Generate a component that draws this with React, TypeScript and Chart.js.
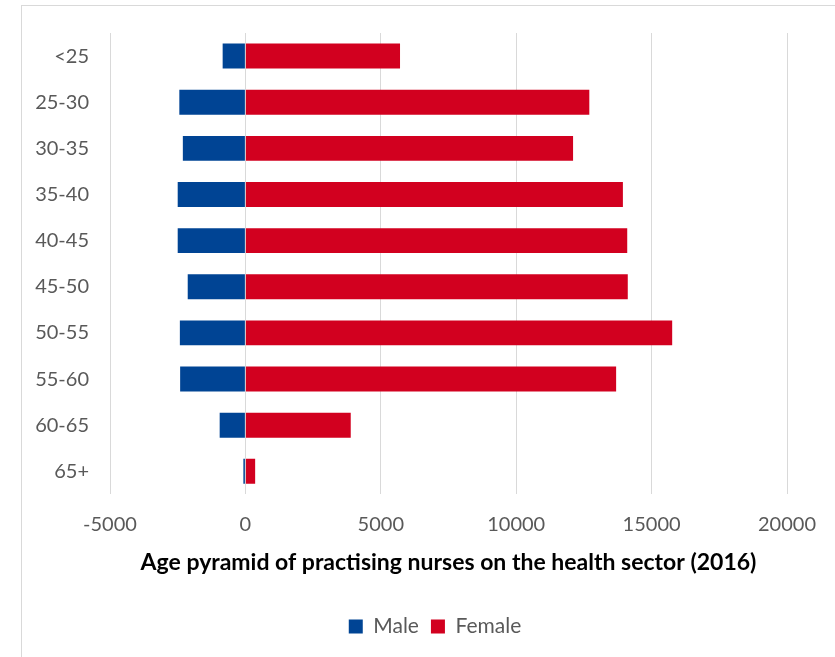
import React, { useEffect, useRef } from "react";
import { Chart, registerables } from "chart.js";

Chart.register(...registerables);

const categories = ["<25", "25-30", "30-35", "35-40", "40-45", "45-50", "50-55", "55-60", "60-65", "65+"];
const maleValues = [-840, -2440, -2310, -2500, -2500, -2130, -2420, -2410, -950, -75];
const femaleValues = [5710, 12700, 12100, 13940, 14100, 14120, 15760, 13690, 3890, 360];
const xTicks = [-5000, 0, 5000, 10000, 15000, 20000];
const titleText = "Age pyramid of practising nurses on the health sector (2016)";

const FONT = "Lato, 'Open Sans', sans-serif";
const GREY = "#595959";

const legendShift = {
  id: "legendShift",
  afterLayout(chart: any) {
    const l = chart.legend;
    if (!l) return;
    const target = 435;
    const cur = (l.left + l.right) / 2;
    const d = target - cur;
    l.left += d;
    l.right += d;
  },
};

export default function App() {
  const canvasRef = useRef<HTMLCanvasElement | null>(null);

  useEffect(() => {
    if (!canvasRef.current) return;
    const chart = new Chart(canvasRef.current, {
      type: "bar",
      data: {
        labels: categories,
        datasets: [
          {
            label: "Male",
            data: maleValues,
            backgroundColor: "#004494",
            barPercentage: 1,
            categoryPercentage: 0.54,
          },
          {
            label: "Female",
            data: femaleValues,
            backgroundColor: "#D2001F",
            barPercentage: 1,
            categoryPercentage: 0.54,
          },
        ],
      },
      plugins: [legendShift],
      options: {
        indexAxis: "y",
        animation: false,
        responsive: false,
        maintainAspectRatio: false,
        layout: { padding: { top: 32, right: 48, left: 0, bottom: 10 } },
        scales: {
          x: {
            stacked: true,
            min: xTicks[0],
            max: xTicks[xTicks.length - 1],
            afterBuildTicks: (scale: any) => {
              scale.ticks = xTicks.map((v) => ({ value: v }));
            },
            afterFit: (scale: any) => {
              scale.height = 50;
            },
            ticks: {
              color: GREY,
              font: { family: FONT, size: 20 },
              padding: 18,
              maxRotation: 0,
              callback: (v: any) => String(v),
            },
            grid: { color: "#d9d9d9", lineWidth: 1, drawTicks: false },
            border: { display: false },
          },
          y: {
            stacked: true,
            afterFit: (scale: any) => {
              scale.width = 110;
            },
            ticks: {
              color: GREY,
              font: { family: FONT, size: 20 },
              padding: 21,
            },
            grid: { display: false, drawTicks: false },
            border: { display: false },
          },
        },
        plugins: {
          tooltip: { enabled: false },
          title: {
            display: true,
            text: titleText,
            position: "bottom",
            fullSize: false,
            weight: 500,
            color: "#000000",
            font: { family: FONT, size: 23, weight: "bold" },
            padding: { top: 4, bottom: 28 },
          } as any,
          legend: {
            position: "bottom",
            labels: {
              color: GREY,
              font: { family: FONT, size: 21 },
              boxWidth: 14,
              boxHeight: 14,
              padding: 12,
            },
          },
        },
      },
    });
    return () => chart.destroy();
  }, []);

  return (
    <div style={{ position: "fixed", left: 0, top: 0, width: 835, height: 657, background: "#fff", overflow: "hidden" }}>
      <div
        style={{
          position: "absolute",
          left: 21,
          top: 5,
          width: 900,
          height: 700,
          borderLeft: "1px solid #d9d9d9",
          borderTop: "1px solid #d9d9d9",
        }}
      />
      <canvas ref={canvasRef} width={835} height={657} style={{ position: "absolute", left: 0, top: 0 }} />
    </div>
  );
}
